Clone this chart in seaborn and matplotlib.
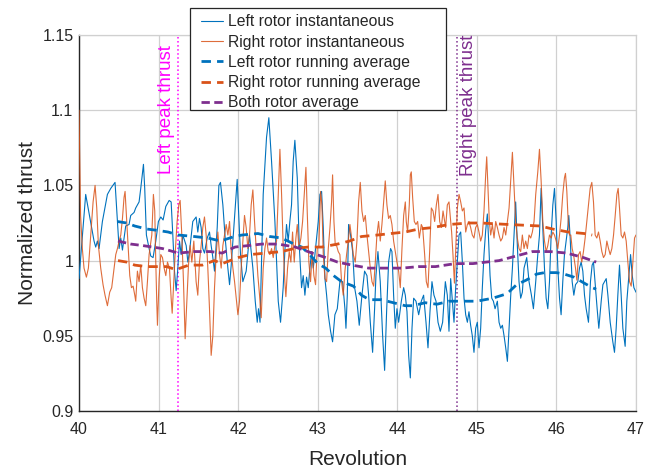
import numpy as np
import pandas as pd
import matplotlib
matplotlib.use("Agg")
import matplotlib.pyplot as plt
from matplotlib.patches import Rectangle
import seaborn as sns

# ---------------- data ----------------
left_x = [40.000, 40.084, 40.189, 40.210, 40.231, 40.252, 40.294, 40.357, 40.399, 40.453,
          40.483, 40.504, 40.525, 40.546, 40.587, 40.629, 40.650, 40.692, 40.713, 40.755,
          40.776, 40.810, 40.826, 40.847, 40.881, 40.902, 40.931, 40.965, 40.998, 41.028,
          41.057, 41.091, 41.133, 41.158, 41.179, 41.200, 41.221, 41.242, 41.263, 41.284,
          41.305, 41.347, 41.368, 41.389, 41.430, 41.472, 41.493, 41.514, 41.535, 41.556,
          41.577, 41.611, 41.640, 41.661, 41.682, 41.703, 41.737, 41.758, 41.778, 41.808,
          41.837, 41.871, 41.892, 41.913, 41.934, 41.955, 41.976, 41.988, 42.005, 42.030,
          42.059, 42.101, 42.143, 42.185, 42.215, 42.240, 42.256, 42.275, 42.315, 42.357,
          42.386, 42.420, 42.462, 42.483, 42.504, 42.533, 42.566, 42.587, 42.608, 42.629,
          42.650, 42.671, 42.692, 42.713, 42.743, 42.768, 42.797, 42.818, 42.839, 42.860,
          42.881, 42.902, 42.923, 42.944, 42.965, 42.986, 43.007, 43.028, 43.049, 43.070,
          43.091, 43.112, 43.133, 43.162, 43.187, 43.216, 43.246, 43.279, 43.313, 43.342,
          43.355, 43.372, 43.388, 43.413, 43.439, 43.464, 43.493, 43.522, 43.556, 43.589,
          43.619, 43.640, 43.661, 43.690, 43.715, 43.732, 43.757, 43.786, 43.816, 43.841,
          43.866, 43.891, 43.916, 43.933, 43.954, 43.975, 43.996, 44.017, 44.051, 44.080,
          44.101, 44.122, 44.143, 44.164, 44.185, 44.206, 44.235, 44.269, 44.302, 44.331,
          44.361, 44.386, 44.411, 44.436, 44.461, 44.487, 44.512, 44.541, 44.570, 44.604,
          44.629, 44.650, 44.671, 44.692, 44.713, 44.734, 44.755, 44.776, 44.797, 44.818,
          44.839, 44.860, 44.881, 44.901, 44.922, 44.943, 44.964, 44.985, 45.006, 45.027,
          45.048, 45.069, 45.090, 45.111, 45.132, 45.145, 45.166, 45.187, 45.208, 45.229,
          45.258, 45.279, 45.300, 45.321, 45.342, 45.363, 45.384, 45.405, 45.426, 45.447,
          45.468, 45.488, 45.509, 45.530, 45.551, 45.572, 45.593, 45.627, 45.656, 45.686,
          45.711, 45.740, 45.766, 45.787, 45.808, 45.829, 45.850, 45.871, 45.892, 45.913,
          45.934, 45.955, 45.976, 45.997, 46.018, 46.039, 46.059, 46.080, 46.101, 46.122,
          46.143, 46.156, 46.173, 46.198, 46.219, 46.240, 46.269, 46.290, 46.311, 46.332,
          46.353, 46.374, 46.403, 46.428, 46.449, 46.466, 46.491, 46.512, 46.533, 46.563,
          46.584, 46.605, 46.626, 46.647, 46.676, 46.709, 46.730, 46.751, 46.772, 46.793,
          46.814, 46.835, 46.864, 46.885, 46.911, 46.932, 46.953, 46.974, 47.000]
left_y = [0.988, 1.044, 1.013, 1.009, 1.013, 1.008, 1.026, 1.044, 1.048, 1.052,
          1.026, 1.008, 1.015, 1.007, 1.023, 1.024, 1.030, 1.032, 1.035, 1.039,
          1.048, 1.064, 1.048, 1.017, 1.008, 1.003, 1.002, 1.013, 1.026, 1.029,
          1.027, 1.036, 1.040, 1.039, 1.017, 0.993, 0.980, 0.995, 1.013, 1.004,
          1.017, 1.010, 0.999, 1.006, 1.026, 1.029, 1.019, 1.028, 1.022, 1.008,
          1.005, 1.015, 1.019, 1.010, 1.002, 0.993, 1.022, 1.050, 1.052, 1.037,
          1.015, 0.995, 0.984, 0.997, 1.013, 1.030, 1.044, 1.054, 1.033, 1.004,
          0.986, 0.993, 1.017, 0.995, 0.973, 0.959, 0.968, 0.959, 1.044, 1.082,
          1.095, 1.066, 1.026, 0.999, 0.973, 0.959, 0.982, 1.006, 1.024, 1.013,
          1.026, 1.037, 1.066, 1.080, 1.055, 1.010, 0.982, 0.990, 0.977, 0.989,
          0.982, 0.995, 1.006, 0.995, 1.004, 1.015, 1.026, 1.044, 1.046, 1.022,
          0.988, 0.977, 0.964, 0.953, 0.946, 0.964, 0.968, 0.986, 0.986, 0.968,
          0.955, 0.977, 1.024, 1.017, 1.006, 0.982, 0.973, 0.957, 0.977, 0.993,
          0.990, 0.977, 0.959, 0.939, 0.968, 0.990, 1.006, 0.986, 0.950, 0.927,
          0.966, 0.999, 1.008, 1.006, 0.977, 0.955, 0.968, 0.959, 0.973, 0.982,
          0.977, 0.966, 0.937, 0.922, 0.955, 0.975, 0.973, 0.964, 0.973, 0.977,
          0.959, 0.942, 0.966, 0.986, 0.977, 0.973, 0.959, 0.953, 0.959, 0.986,
          0.977, 0.953, 0.988, 0.973, 0.959, 0.982, 0.999, 1.017, 1.019, 0.999,
          0.975, 0.964, 0.959, 0.966, 0.957, 0.950, 0.939, 0.955, 0.959, 0.942,
          0.955, 0.982, 1.004, 1.020, 1.031, 1.017, 0.990, 0.975, 0.973, 0.968,
          0.973, 0.959, 0.955, 0.957, 0.950, 0.942, 0.933, 0.955, 0.977, 0.995,
          1.017, 1.039, 1.010, 0.986, 0.975, 0.979, 0.995, 1.002, 0.986, 0.977,
          0.968, 0.986, 1.004, 1.017, 1.048, 1.022, 0.995, 0.975, 0.968, 0.986,
          1.017, 1.037, 1.048, 1.026, 0.995, 0.975, 0.964, 0.986, 1.004, 1.013,
          1.022, 1.030, 1.015, 0.986, 0.977, 0.984, 0.986, 0.995, 0.999, 0.993,
          0.977, 0.968, 0.959, 0.986, 0.997, 0.999, 0.982, 0.968, 0.955, 0.973,
          0.984, 0.986, 0.988, 0.977, 0.959, 0.946, 0.939, 0.955, 0.977, 0.997,
          0.977, 0.955, 0.943, 0.973, 0.990, 1.004, 0.990, 0.982, 0.979]

right_x = [40.000, 40.020, 40.042, 40.063, 40.093, 40.118, 40.147, 40.177, 40.202, 40.223,
           40.244, 40.273, 40.302, 40.327, 40.357, 40.386, 40.411, 40.441, 40.462, 40.483,
           40.504, 40.525, 40.546, 40.566, 40.579, 40.600, 40.621, 40.638, 40.659, 40.680,
           40.701, 40.713, 40.734, 40.755, 40.776, 40.797, 40.818, 40.839, 40.860, 40.881,
           40.915, 40.935, 40.952, 40.965, 40.977, 40.986, 41.007, 41.028, 41.049, 41.070,
           41.091, 41.112, 41.137, 41.158, 41.171, 41.191, 41.208, 41.233, 41.254, 41.271,
           41.292, 41.313, 41.334, 41.355, 41.376, 41.397, 41.418, 41.443, 41.472, 41.493,
           41.514, 41.535, 41.556, 41.577, 41.598, 41.619, 41.640, 41.661, 41.682, 41.703,
           41.724, 41.745, 41.766, 41.787, 41.808, 41.829, 41.850, 41.871, 41.892, 41.913,
           41.934, 41.955, 41.976, 41.997, 42.017, 42.038, 42.059, 42.080, 42.101, 42.122,
           42.143, 42.164, 42.185, 42.206, 42.227, 42.248, 42.269, 42.290, 42.315, 42.336,
           42.357, 42.378, 42.399, 42.420, 42.441, 42.462, 42.483, 42.504, 42.525, 42.546,
           42.566, 42.587, 42.600, 42.621, 42.642, 42.663, 42.684, 42.705, 42.726, 42.743,
           42.764, 42.789, 42.810, 42.831, 42.852, 42.868, 42.889, 42.910, 42.931, 42.952,
           42.973, 42.994, 43.015, 43.036, 43.053, 43.070, 43.091, 43.112, 43.133, 43.154,
           43.174, 43.187, 43.204, 43.221, 43.237, 43.258, 43.279, 43.300, 43.321, 43.342,
           43.363, 43.384, 43.405, 43.426, 43.447, 43.472, 43.493, 43.514, 43.535, 43.556,
           43.577, 43.598, 43.619, 43.640, 43.661, 43.682, 43.703, 43.724, 43.744, 43.765,
           43.786, 43.807, 43.828, 43.849, 43.870, 43.891, 43.912, 43.933, 43.954, 43.975,
           43.996, 44.017, 44.038, 44.059, 44.080, 44.101, 44.113, 44.130, 44.151, 44.164,
           44.176, 44.193, 44.214, 44.235, 44.256, 44.277, 44.302, 44.319, 44.344, 44.365,
           44.386, 44.407, 44.428, 44.449, 44.470, 44.491, 44.512, 44.533, 44.554, 44.575,
           44.596, 44.608, 44.629, 44.650, 44.671, 44.683, 44.700, 44.718, 44.734, 44.755,
           44.776, 44.797, 44.818, 44.839, 44.860, 44.881, 44.901, 44.922, 44.943, 44.964,
           44.985, 45.006, 45.027, 45.048, 45.069, 45.090, 45.111, 45.124, 45.140, 45.157,
           45.174, 45.195, 45.216, 45.237, 45.258, 45.279, 45.300, 45.321, 45.342, 45.363,
           45.384, 45.405, 45.426, 45.447, 45.468, 45.488, 45.509, 45.530, 45.551, 45.572,
           45.593, 45.614, 45.635, 45.656, 45.677, 45.698, 45.719, 45.740, 45.766, 45.787,
           45.808, 45.829, 45.850, 45.871, 45.892, 45.913, 45.934, 45.955, 45.976, 45.997,
           46.018, 46.039, 46.059, 46.080, 46.101, 46.114, 46.131, 46.148, 46.164, 46.181,
           46.198, 46.215, 46.240, 46.257, 46.278, 46.298, 46.319, 46.340, 46.361, 46.382,
           46.403, 46.424, 46.445, 46.466, 46.487, 46.508, 46.529, 46.550, 46.571, 46.592,
           46.613, 46.634, 46.655, 46.676, 46.697, 46.718, 46.739, 46.760, 46.776, 46.793,
           46.814, 46.835, 46.856, 46.877, 46.898, 46.919, 46.940, 46.961, 46.982, 47.000]
right_y = [1.100, 1.030, 1.008, 0.995, 0.989, 0.995, 1.017, 1.039, 1.050, 1.035,
           1.010, 0.995, 0.984, 0.977, 0.970, 0.979, 0.982, 0.995, 1.004, 1.008,
           1.013, 1.017, 1.028, 1.042, 1.046, 1.026, 1.006, 0.990, 0.982, 0.983,
           0.977, 0.973, 0.993, 0.986, 0.997, 0.982, 0.975, 0.970, 0.986, 1.004,
           1.017, 1.044, 1.033, 0.999, 0.973, 0.957, 0.988, 1.004, 1.002, 0.995,
           0.990, 0.999, 0.995, 0.975, 0.965, 0.986, 1.004, 1.026, 1.037, 1.040,
           1.017, 0.986, 0.948, 0.973, 0.997, 1.010, 0.999, 1.013, 0.986, 0.977,
           0.999, 1.010, 1.022, 1.029, 1.017, 0.995, 0.968, 0.937, 0.950, 0.982,
           1.004, 1.019, 1.004, 0.995, 1.010, 1.017, 1.024, 1.017, 1.026, 1.006,
           0.995, 0.986, 0.975, 0.964, 0.973, 0.995, 1.013, 1.030, 1.022, 1.008,
           1.017, 1.037, 1.047, 1.026, 1.008, 0.990, 0.977, 0.962, 0.995, 1.008,
           1.015, 1.006, 1.004, 1.008, 1.002, 1.010, 1.013, 1.044, 1.074, 1.044,
           1.010, 0.986, 0.976, 0.995, 1.006, 0.999, 1.019, 0.999, 1.015, 1.024,
           1.008, 1.015, 1.026, 1.044, 1.062, 1.033, 0.999, 0.986, 1.006, 0.990,
           0.984, 1.008, 1.010, 1.046, 1.037, 1.004, 0.988, 0.986, 1.008, 1.022,
           1.039, 1.057, 1.026, 1.010, 1.010, 1.006, 1.004, 0.986, 0.977, 0.993,
           1.004, 1.013, 1.024, 1.015, 1.004, 0.999, 1.013, 1.039, 1.052, 1.033,
           1.026, 1.030, 1.017, 1.006, 0.995, 0.986, 0.983, 0.999, 1.017, 1.026,
           1.013, 1.024, 1.039, 1.053, 1.037, 1.028, 1.030, 1.024, 1.013, 1.006,
           0.999, 0.993, 0.982, 1.008, 1.030, 1.039, 1.026, 1.019, 1.037, 1.057,
           1.059, 1.042, 1.026, 1.024, 1.026, 1.015, 1.024, 1.022, 1.004, 0.986,
           0.982, 1.006, 1.035, 1.033, 1.026, 1.037, 1.044, 1.026, 1.022, 1.033,
           1.026, 1.022, 1.037, 1.039, 1.026, 1.019, 1.004, 0.985, 1.006, 1.035,
           1.044, 1.039, 1.033, 1.035, 1.019, 1.024, 1.026, 1.022, 1.017, 1.015,
           1.022, 1.024, 1.019, 1.013, 1.017, 1.033, 1.057, 1.069, 1.048, 1.026,
           1.017, 1.024, 1.015, 1.026, 1.022, 1.017, 1.013, 1.015, 1.022, 1.017,
           1.026, 1.035, 1.053, 1.072, 1.048, 1.026, 1.015, 1.008, 1.006, 1.017,
           1.008, 1.013, 1.008, 1.017, 1.015, 1.019, 1.026, 1.044, 1.059, 1.074,
           1.053, 1.026, 1.013, 1.006, 1.010, 1.017, 1.015, 1.019, 1.017, 1.013,
           1.008, 1.017, 1.028, 1.044, 1.055, 1.058, 1.046, 1.026, 1.017, 1.017,
           1.008, 1.004, 0.995, 0.987, 1.004, 1.006, 0.999, 1.006, 1.015, 1.026,
           1.037, 1.048, 1.052, 1.039, 1.017, 1.015, 1.019, 1.013, 1.006, 1.002,
           1.004, 1.013, 1.008, 1.004, 1.008, 1.017, 1.030, 1.044, 1.048, 1.035,
           1.017, 1.015, 1.019, 1.013, 0.999, 0.986, 0.983, 0.999, 1.015, 1.017]

left_avg_x = [40.48, 40.60, 40.70, 40.85, 41.00, 41.12, 41.25, 41.45, 41.62, 41.78,
              41.95, 42.05, 42.25, 42.40, 42.55, 42.70, 42.80, 42.90, 43.00, 43.10,
              43.20, 43.30, 43.45, 43.55, 43.65, 43.80, 43.95, 44.10, 44.20, 44.35,
              44.50, 44.65, 44.85, 45.00, 45.20, 45.38, 45.50, 45.62, 45.75, 45.85,
              46.00, 46.10, 46.22, 46.35, 46.45, 46.50]
left_avg_y = [1.026, 1.025, 1.023, 1.021, 1.020, 1.019, 1.017, 1.016, 1.015, 1.013,
              1.016, 1.017, 1.018, 1.016, 1.015, 1.011, 1.009, 1.004, 0.998, 0.995,
              0.990, 0.986, 0.983, 0.977, 0.974, 0.974, 0.972, 0.970, 0.970, 0.972,
              0.971, 0.973, 0.973, 0.973, 0.975, 0.978, 0.984, 0.987, 0.991, 0.992,
              0.992, 0.991, 0.989, 0.985, 0.982, 0.981]

right_avg_x = [40.49, 40.60, 40.70, 40.85, 41.00, 41.10, 41.22, 41.38, 41.55, 41.70,
               41.80, 42.00, 42.15, 42.35, 42.55, 42.70, 42.88, 43.05, 43.25, 43.40,
               43.55, 43.75, 43.92, 44.10, 44.27, 44.45, 44.65, 44.90, 45.05, 45.40,
               45.80, 45.95, 46.15, 46.35, 46.45]
right_avg_y = [1.000, 0.999, 0.997, 0.996, 0.996, 0.996, 0.994, 0.997, 0.997, 1.000,
               0.998, 1.002, 1.004, 1.005, 1.006, 1.008, 1.009, 1.009, 1.011, 1.013,
               1.016, 1.017, 1.018, 1.019, 1.021, 1.022, 1.024, 1.025, 1.025, 1.024,
               1.023, 1.021, 1.019, 1.018, 1.017]

both_avg_x = [40.49, 40.65, 40.80, 41.05, 41.25, 41.45, 41.65, 41.80, 41.96, 42.13,
              42.30, 42.50, 42.72, 42.93, 43.10, 43.25, 43.43, 43.64, 43.85, 44.06,
              44.27, 44.48, 44.73, 44.95, 45.28, 45.49, 45.70, 45.92, 46.13, 46.34,
              46.50]
both_avg_y = [1.013, 1.011, 1.010, 1.008, 1.005, 1.006, 1.006, 1.005, 1.009, 1.010,
              1.011, 1.011, 1.009, 1.005, 1.002, 0.999, 0.997, 0.995, 0.995, 0.995,
              0.996, 0.996, 0.998, 0.998, 1.000, 1.003, 1.006, 1.006, 1.005, 1.002,
              0.999]

left_peak = 41.25
right_peak = 44.75
x_ticks = [40, 41, 42, 43, 44, 45, 46, 47]
y_ticks = [0.9, 0.95, 1.0, 1.05, 1.1, 1.15]
y_tick_labels = ["0.9", "0.95", "1", "1.05", "1.1", "1.15"]

# ---------------- styling ----------------
sns.set_style("white")
plt.rcParams["font.family"] = ["Liberation Sans", "DejaVu Sans"]

BLUE = "#0072BD"
ORANGE = "#D95319"
PURPLE = "#7E2F8E"
MAGENTA = "#FF00FF"

fig = plt.figure(figsize=(6.6, 4.71), dpi=100)
ax = fig.add_axes([0.1197, 0.1274, 0.8439, 0.7983])

ax.grid(True, color="#d0d0d0", linewidth=0.9)
ax.set_axisbelow(True)

sns.lineplot(x=left_x, y=left_y, ax=ax, color=BLUE, linewidth=0.8,
             estimator=None, sort=False, label="Left rotor instantaneous", zorder=3)
sns.lineplot(x=right_x, y=right_y, ax=ax, color=ORANGE, linewidth=0.8, alpha=0.85,
             estimator=None, sort=False, label="Right rotor instantaneous", zorder=3)
sns.lineplot(x=left_avg_x, y=left_avg_y, ax=ax, color=BLUE, linewidth=2.0,
             linestyle=(0, (3.4, 2.2)), estimator=None, sort=False,
             label="Left rotor running average", zorder=4)
sns.lineplot(x=right_avg_x, y=right_avg_y, ax=ax, color=ORANGE, linewidth=2.0,
             linestyle=(0, (3.4, 2.2)), estimator=None, sort=False,
             label="Right rotor running average", zorder=4)
sns.lineplot(x=both_avg_x, y=both_avg_y, ax=ax, color=PURPLE, linewidth=2.0,
             linestyle=(0, (3.0, 1.6)), estimator=None, sort=False,
             label="Both rotor average", zorder=5)

ax.axvline(left_peak, color=MAGENTA, linestyle=":", linewidth=1.1, zorder=2)
ax.axvline(right_peak, color=PURPLE, linestyle=":", linewidth=1.1, zorder=2)
ax.text(41.10, 1.1435, "Left peak thrust", rotation=90, color=MAGENTA,
        fontsize=13.5, ha="center", va="top", zorder=6)
ax.text(44.89, 1.150, "Right peak thrust", rotation=90, color=PURPLE,
        fontsize=13.5, ha="center", va="top", zorder=6)

ax.set_xlim(40, 47)
ax.set_ylim(0.9, 1.15)
ax.set_xticks(x_ticks)
ax.set_xticklabels([str(t) for t in x_ticks])
ax.set_yticks(y_ticks)
ax.set_yticklabels(y_tick_labels)
ax.tick_params(axis="both", direction="in", length=4, width=0.8,
               labelsize=11.5, colors="#262626")
ax.tick_params(axis="x", pad=8)
ax.tick_params(axis="y", pad=4)
for side in ["left", "bottom"]:
    ax.spines[side].set_color("#262626")
    ax.spines[side].set_linewidth(1.0)
for side in ["top", "right"]:
    ax.spines[side].set_color("#d0d0d0")
    ax.spines[side].set_linewidth(0.9)

ax.set_xlabel("Revolution", fontsize=15, color="#262626", labelpad=9)
ax.set_ylabel("Normalized thrust", fontsize=15, color="#262626", labelpad=4)

# legend frame (MATLAB-style wide box) drawn as a figure patch
frame = Rectangle((190 / 660, 1 - 110 / 471), 256 / 660, 102 / 471,
                  transform=fig.transFigure, facecolor="white",
                  edgecolor="#262626", linewidth=0.9, zorder=8)
fig.patches.append(frame)

handles, labels = ax.get_legend_handles_labels()
ax.get_legend().remove()
leg = fig.legend(handles, labels, loc="upper left",
                 bbox_to_anchor=(201 / 660, 1 - 14.5 / 471),
                 fontsize=11.3, frameon=False, handlelength=1.4, handletextpad=0.3,
                 labelspacing=0.33, borderpad=0.0, borderaxespad=0)
leg.set_zorder(10)

fig.savefig("out.png", dpi=100)
